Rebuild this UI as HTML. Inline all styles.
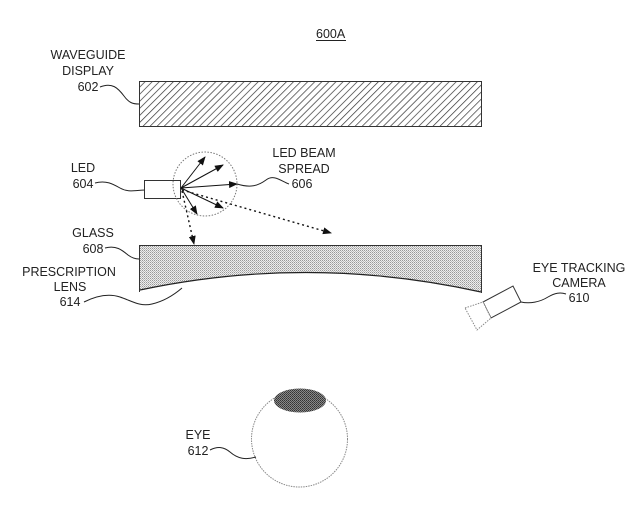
<!DOCTYPE html>
<html><head><meta charset="utf-8"><style>
html,body{margin:0;padding:0;background:#fff;}
svg{display:block;}
text{font-family:"Liberation Sans",Arial,sans-serif;font-size:12.5px;fill:#222;}
</style></head><body>
<svg width="642" height="514" viewBox="0 0 642 514" xmlns="http://www.w3.org/2000/svg">
<defs>
<pattern id="hatch" width="5" height="5" patternUnits="userSpaceOnUse" patternTransform="rotate(45)">
<rect width="5" height="5" fill="#fff"/>
<line x1="0" y1="0" x2="0" y2="5" stroke="#333" stroke-width="1.4"/>
</pattern>
<pattern id="dots" width="2" height="2" patternUnits="userSpaceOnUse">
<rect width="2" height="2" fill="#eeeeee"/>
<rect x="0" y="0" width="1" height="1" fill="#999"/>
<rect x="1" y="1" width="1" height="1" fill="#bbb"/>
</pattern>
<pattern id="iris" width="2" height="2" patternUnits="userSpaceOnUse">
<rect width="2" height="2" fill="#888"/>
<rect x="0" y="0" width="1" height="1" fill="#333"/>
<rect x="1" y="1" width="1" height="1" fill="#444"/>
</pattern>
<marker id="ah" markerWidth="9" markerHeight="7" refX="8" refY="3.5" orient="auto" markerUnits="userSpaceOnUse">
<path d="M0,0 L9,3.5 L0,7 Z" fill="#111"/>
</marker>
</defs>

<!-- title -->
<text x="316" y="38" font-size="11.5">600A</text>
<line x1="316" y1="40.5" x2="346" y2="40.5" stroke="#222" stroke-width="1"/>

<!-- waveguide -->
<rect x="139.5" y="81.5" width="342" height="45" fill="url(#hatch)" stroke="#333" stroke-width="1"/>
<text x="88" y="59" text-anchor="middle">WAVEGUIDE</text>
<text x="88" y="75" text-anchor="middle">DISPLAY</text>
<text x="88" y="91" text-anchor="middle">602</text>
<path d="M100,87 C112,82 118,88 124,96 C129,103 133,104 139,104" fill="none" stroke="#222" stroke-width="1"/>

<!-- LED -->
<text x="83" y="172" text-anchor="middle">LED</text>
<text x="83" y="188" text-anchor="middle">604</text>
<path d="M95,183 C106,180 113,184 120,188 C127,192 134,191 144,190" fill="none" stroke="#222" stroke-width="1"/>
<rect x="144.5" y="180.5" width="36" height="18" fill="#fff" stroke="#333" stroke-width="1"/>

<circle cx="205" cy="184" r="32" fill="none" stroke="#777" stroke-width="1" stroke-dasharray="1.5,1.5"/>

<g stroke="#111" stroke-width="1" fill="none">
<line x1="181" y1="188" x2="205" y2="157" marker-end="url(#ah)"/>
<line x1="181" y1="188" x2="223" y2="165" marker-end="url(#ah)"/>
<line x1="181" y1="188" x2="237" y2="184" marker-end="url(#ah)"/>
<line x1="181" y1="188" x2="223" y2="208" marker-end="url(#ah)"/>
<line x1="181" y1="188" x2="197" y2="214" marker-end="url(#ah)"/>
<line x1="182" y1="191" x2="194" y2="244" stroke-dasharray="2,3" stroke-width="1.4" marker-end="url(#ah)"/>
<line x1="182" y1="190" x2="331" y2="233" stroke-dasharray="2,3" stroke-width="1.4" marker-end="url(#ah)"/>
</g>

<text x="304" y="157" text-anchor="middle">LED BEAM</text>
<text x="304" y="173" text-anchor="middle">SPREAD</text>
<text x="302" y="188" text-anchor="middle">606</text>
<path d="M237,184 C250,188 258,186 266,180 C274,174 281,181 289,184" fill="none" stroke="#222" stroke-width="1"/>

<!-- glass / lens -->
<path d="M139.5,245.5 L481.5,245.5 L481.5,292 Q310,254 140,290 Z" fill="url(#dots)" stroke="none"/>
<path d="M139.5,292 L139.5,245.5 L481.5,245.5 L481.5,293" fill="none" stroke="#333" stroke-width="1"/>
<path d="M140,290 Q310,254 481,292" fill="none" stroke="#222" stroke-width="1.2"/>

<text x="93" y="237" text-anchor="middle">GLASS</text>
<text x="93" y="253" text-anchor="middle">608</text>
<path d="M105,248 C116,245 122,250 128,255 C132,258 135,259 139,259" fill="none" stroke="#222" stroke-width="1"/>

<text x="69" y="276" text-anchor="middle">PRESCRIPTION</text>
<text x="70" y="291" text-anchor="middle">LENS</text>
<text x="70" y="306" text-anchor="middle">614</text>
<path d="M84,302 C96,296 108,293 120,297 C132,301 140,307 152,304 C165,301 175,294 182,288" fill="none" stroke="#222" stroke-width="1"/>

<!-- eye tracking camera -->
<polygon points="483,302 513,286 521,302 491,318" fill="#fff" stroke="#333" stroke-width="1"/>
<polygon points="465,308 483,302 491,318 477,330" fill="#fff" stroke="#888" stroke-width="1" stroke-dasharray="1.5,1.2"/>
<path d="M521,302 C530,304 540,302 548,297 C555,293 560,292 566,294" fill="none" stroke="#222" stroke-width="1"/>
<text x="579" y="272" text-anchor="middle">EYE TRACKING</text>
<text x="579" y="287" text-anchor="middle">CAMERA</text>
<text x="579" y="302" text-anchor="middle">610</text>

<!-- eye -->
<circle cx="299.5" cy="439" r="48" fill="#fff" stroke="#888" stroke-width="1" stroke-dasharray="1.5,1"/>
<ellipse cx="300" cy="400.5" rx="26" ry="12" fill="url(#iris)"/>
<text x="198" y="439" text-anchor="middle">EYE</text>
<text x="198" y="455" text-anchor="middle">612</text>
<path d="M210,450 C218,446 224,447 230,452 C238,459 246,460 256,457" fill="none" stroke="#222" stroke-width="1"/>
</svg>
</body></html>
